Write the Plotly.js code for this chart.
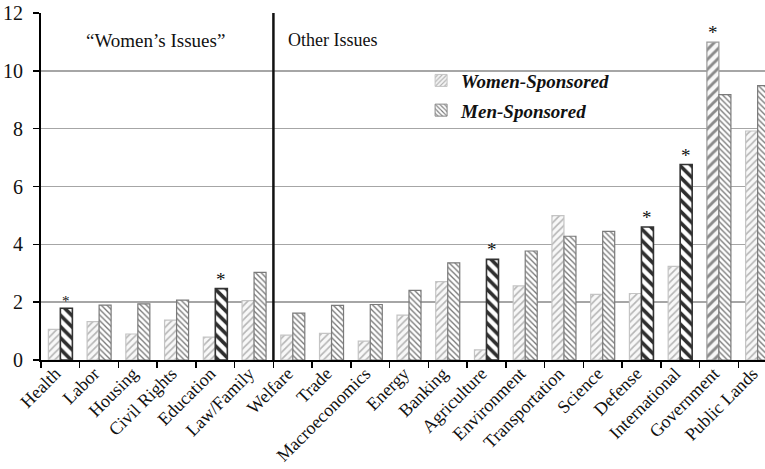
<!DOCTYPE html>
<html>
<head>
<meta charset="utf-8">
<script src="https://cdn.plot.ly/plotly-3.0.1.min.js"></script>
<style>html,body{margin:0;padding:0;background:#fff;overflow:hidden;}#chart{width:765px;height:469px;}</style>
</head>
<body>
<div id="chart"></div>
<script>
const categories = ["Health","Labor","Housing","Civil Rights","Education","Law/Family","Welfare","Trade","Macroeconomics","Energy","Banking","Agriculture","Environment","Transportation","Science","Defense","International","Government","Public Lands"];
const womenSponsored = [1.06,1.33,0.90,1.38,0.79,2.05,0.86,0.92,0.65,1.55,2.71,0.35,2.56,4.99,2.27,2.30,3.24,10.99,7.92];
const menSponsored = [1.79,1.90,1.94,2.07,2.47,3.03,1.62,1.89,1.92,2.41,3.36,3.48,3.77,4.28,4.45,4.60,6.76,9.18,9.49];
const womenSignificant = [0,0,0,0,0,0,0,0,0,0,0,0,0,0,0,0,0,1,0];
const menSignificant = [1,0,0,0,1,0,0,0,0,0,0,1,0,0,0,1,1,0,0];
const seriesNames = ["Women-Sponsored","Men-Sponsored"];
const groupLabels = ["\u201cWomen\u2019s Issues\u201d","Other Issues"];

const serif = "'Liberation Serif', 'Times New Roman', serif";

const wStyle = {
  fg: s => s ? "#8a8a8a" : "#b5b5b5",
  size: s => s ? 7 : 5,
  sol: s => s ? 0.42 : 0.32,
  line: s => s ? "#9a9a9a" : "#c4c4c4"
};
const mStyle = {
  fg: s => s ? "#2e2e2e" : "#777777",
  size: s => s ? 8 : 4,
  sol: s => s ? 0.45 : 0.33,
  line: s => s ? "#333333" : "#7a7a7a"
};

const women = {
  type: "bar", x: categories, y: womenSponsored, name: seriesNames[0],
  offsetgroup: "w", showlegend: false, hoverinfo: "x+y",
  marker: {
    color: "#f6f6f6",
    pattern: {shape: "/", fgcolor: womenSignificant.map(wStyle.fg), bgcolor: "#f8f8f8",
              size: womenSignificant.map(wStyle.size), solidity: womenSignificant.map(wStyle.sol)},
    line: {color: womenSignificant.map(wStyle.line), width: 1.2}
  }
};
const men = {
  type: "bar", x: categories, y: menSponsored, name: seriesNames[1],
  offsetgroup: "m", showlegend: false, hoverinfo: "x+y",
  marker: {
    color: "#ffffff",
    pattern: {shape: "\\", fgcolor: menSignificant.map(mStyle.fg), bgcolor: "#ffffff",
              size: menSignificant.map(mStyle.size), solidity: menSignificant.map(mStyle.sol)},
    line: {color: menSignificant.map(mStyle.line), width: menSignificant.map(s => s ? 1.6 : 1.2)}
  }
};
// legend-only entries sharing the same offset groups
const womenLegend = {
  type: "bar", x: [categories[0]], y: [null], name: "<b><i>" + seriesNames[0] + "</i></b>",
  offsetgroup: "w", legendgroup: "a", hoverinfo: "skip",
  marker: {color: "#f6f6f6", pattern: {shape: "/", fgcolor: "#b0b0b0", bgcolor: "#f4f4f4", size: 4, solidity: 0.35},
           line: {color: "#c4c4c4", width: 1}}
};
const menLegend = {
  type: "bar", x: [categories[0]], y: [null], name: "<b><i>" + seriesNames[1] + "</i></b>",
  offsetgroup: "m", legendgroup: "b", hoverinfo: "skip",
  marker: {color: "#fff", pattern: {shape: "\\", fgcolor: "#777", bgcolor: "#fff", size: 4, solidity: 0.35},
           line: {color: "#888", width: 1}}
};

const off = 0.155;
const annotations = [];
womenSignificant.forEach((s, i) => {
  if (s) annotations.push({x: i - off, y: womenSponsored[i], xref: "x", yref: "y", text: "*", showarrow: false,
    yanchor: "bottom", yshift: -3, font: {family: serif, size: 19, color: "#111"}});
});
menSignificant.forEach((s, i) => {
  if (s) annotations.push({x: i + off, y: menSponsored[i], xref: "x", yref: "y", text: "*", showarrow: false,
    yanchor: "bottom", yshift: -3, font: {family: serif, size: i === 0 ? 15 : 19, color: "#111"}});
});
annotations.push({x: 2.45, y: 11.05, xref: "x", yref: "y", text: groupLabels[0], showarrow: false,
  font: {family: serif, size: 19, color: "#111"}});
annotations.push({x: 5.83, y: 11.05, xref: "x", yref: "y", text: groupLabels[1], showarrow: false, xanchor: "left",
  font: {family: serif, size: 18, color: "#111"}});

const layout = {
  width: 765, height: 469,
  margin: {l: 41, r: 0, t: 13, b: 109, pad: 0},
  paper_bgcolor: "#ffffff", plot_bgcolor: "#ffffff",
  barmode: "group", bargap: 0.38, bargroupgap: 0,
  font: {family: serif, color: "#111"},
  showlegend: true,
  legend: {x: 0.525, y: 0.86, xanchor: "left", yanchor: "top", bgcolor: "rgba(0,0,0,0)",
           font: {family: serif, size: 19, color: "#111"}, traceorder: "grouped", tracegroupgap: 2},
  xaxis: {
    type: "category", range: [-0.5, 18.19], tickangle: -45, tickson: "boundaries",
    ticks: "outside", ticklen: 6, tickcolor: "#000", tickwidth: 1.5, ticklabelstandoff: -6, ticklabelshift: -5,
    showline: true, linecolor: "#000", linewidth: 2, showgrid: false,
    tickfont: {family: serif, size: 18, color: "#111"}, fixedrange: true
  },
  yaxis: {
    range: [0, 12], dtick: 2, tick0: 0, ticks: "outside", ticklen: 6, tickcolor: "#000", tickwidth: 1.5,
    ticklabelstandoff: 6,
    showline: true, linecolor: "#000", linewidth: 2, showgrid: true, gridcolor: "#a6a6a6", gridwidth: 1.5,
    zeroline: false, tickfont: {family: serif, size: 20, color: "#111"}, fixedrange: true
  },
  shapes: [{type: "line", xref: "x", yref: "y", x0: 5.5, x1: 5.5, y0: 0, y1: 12,
            line: {color: "#111", width: 2.5}}],
  annotations: annotations
};

Plotly.newPlot("chart", [women, men, womenLegend, menLegend], layout, {displayModeBar: false, staticPlot: true});
</script>
</body>
</html>
